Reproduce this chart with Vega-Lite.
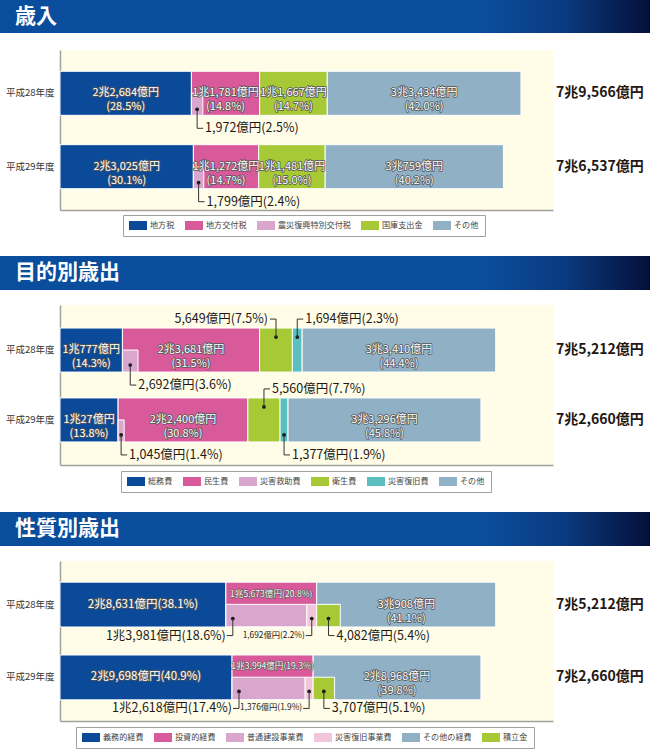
{
  "$schema": "https://vega.github.io/schema/vega-lite/v6.json",
  "padding": 0,
  "background": "#ffffff",
  "config": {
    "view": {"stroke": null},
    "font": "Noto Sans CJK JP",
    "text": {"font": "Noto Sans CJK JP"}
  },
  "datasets": {
    "rev": [
      {"year": "平成28年度", "cat": "地方税", "value": 22684, "pct": 28.5, "kind": "main", "parent": "地方税", "k": 1},
      {"year": "平成28年度", "cat": "震災復興特別交付税", "value": 1972, "pct": 2.5, "kind": "inset", "parent": "地方交付税", "k": 2},
      {"year": "平成28年度", "cat": "地方交付税", "value": 11781, "pct": 14.8, "kind": "main", "parent": "地方交付税", "k": 3},
      {"year": "平成28年度", "cat": "国庫支出金", "value": 11667, "pct": 14.7, "kind": "main", "parent": "国庫支出金", "k": 4},
      {"year": "平成28年度", "cat": "その他", "value": 33434, "pct": 42.0, "kind": "main", "parent": "その他", "k": 5},
      {"year": "平成28年度", "cat": "合計", "value": 79566, "kind": "total", "parent": "合計", "k": 6},
      {"year": "平成29年度", "cat": "地方税", "value": 23025, "pct": 30.1, "kind": "main", "parent": "地方税", "k": 1},
      {"year": "平成29年度", "cat": "震災復興特別交付税", "value": 1799, "pct": 2.4, "kind": "inset", "parent": "地方交付税", "k": 2},
      {"year": "平成29年度", "cat": "地方交付税", "value": 11272, "pct": 14.7, "kind": "main", "parent": "地方交付税", "k": 3},
      {"year": "平成29年度", "cat": "国庫支出金", "value": 11481, "pct": 15.0, "kind": "main", "parent": "国庫支出金", "k": 4},
      {"year": "平成29年度", "cat": "その他", "value": 30759, "pct": 40.2, "kind": "main", "parent": "その他", "k": 5},
      {"year": "平成29年度", "cat": "合計", "value": 76537, "kind": "total", "parent": "合計", "k": 6}
    ],
    "purp": [
      {"year": "平成28年度", "cat": "総務費", "value": 10777, "pct": 14.3, "kind": "main", "parent": "総務費", "k": 1},
      {"year": "平成28年度", "cat": "災害救助費", "value": 2692, "pct": 3.6, "kind": "inset", "parent": "民生費", "k": 2},
      {"year": "平成28年度", "cat": "民生費", "value": 23681, "pct": 31.5, "kind": "main", "parent": "民生費", "k": 3},
      {"year": "平成28年度", "cat": "衛生費", "value": 5649, "pct": 7.5, "kind": "main", "parent": "衛生費", "k": 4},
      {"year": "平成28年度", "cat": "災害復旧費", "value": 1694, "pct": 2.3, "kind": "main", "parent": "災害復旧費", "k": 5},
      {"year": "平成28年度", "cat": "その他", "value": 33410, "pct": 44.4, "kind": "main", "parent": "その他", "k": 6},
      {"year": "平成28年度", "cat": "合計", "value": 75212, "kind": "total", "parent": "合計", "k": 7},
      {"year": "平成29年度", "cat": "総務費", "value": 10027, "pct": 13.8, "kind": "main", "parent": "総務費", "k": 1},
      {"year": "平成29年度", "cat": "災害救助費", "value": 1045, "pct": 1.4, "kind": "inset", "parent": "民生費", "k": 2},
      {"year": "平成29年度", "cat": "民生費", "value": 22400, "pct": 30.8, "kind": "main", "parent": "民生費", "k": 3},
      {"year": "平成29年度", "cat": "衛生費", "value": 5560, "pct": 7.7, "kind": "main", "parent": "衛生費", "k": 4},
      {"year": "平成29年度", "cat": "災害復旧費", "value": 1377, "pct": 1.9, "kind": "main", "parent": "災害復旧費", "k": 5},
      {"year": "平成29年度", "cat": "その他", "value": 33296, "pct": 45.8, "kind": "main", "parent": "その他", "k": 6},
      {"year": "平成29年度", "cat": "合計", "value": 72660, "kind": "total", "parent": "合計", "k": 7}
    ],
    "nat": [
      {"year": "平成28年度", "cat": "義務的経費", "value": 28631, "pct": 38.1, "kind": "main", "parent": "義務的経費", "k": 1},
      {"year": "平成28年度", "cat": "普通建設事業費", "value": 13981, "pct": 18.6, "kind": "inset", "parent": "投資的経費", "k": 2},
      {"year": "平成28年度", "cat": "災害復旧事業費", "value": 1692, "pct": 2.2, "kind": "inset", "parent": "投資的経費", "k": 3},
      {"year": "平成28年度", "cat": "投資的経費", "value": 15673, "pct": 20.8, "kind": "main", "parent": "投資的経費", "k": 4},
      {"year": "平成28年度", "cat": "積立金", "value": 4082, "pct": 5.4, "kind": "inset", "parent": "その他の経費", "k": 5},
      {"year": "平成28年度", "cat": "その他の経費", "value": 30908, "pct": 41.1, "kind": "main", "parent": "その他の経費", "k": 6},
      {"year": "平成28年度", "cat": "合計", "value": 75212, "kind": "total", "parent": "合計", "k": 7},
      {"year": "平成29年度", "cat": "義務的経費", "value": 29698, "pct": 40.9, "kind": "main", "parent": "義務的経費", "k": 1},
      {"year": "平成29年度", "cat": "普通建設事業費", "value": 12618, "pct": 17.4, "kind": "inset", "parent": "投資的経費", "k": 2},
      {"year": "平成29年度", "cat": "災害復旧事業費", "value": 1376, "pct": 1.9, "kind": "inset", "parent": "投資的経費", "k": 3},
      {"year": "平成29年度", "cat": "投資的経費", "value": 13994, "pct": 19.3, "kind": "main", "parent": "投資的経費", "k": 4},
      {"year": "平成29年度", "cat": "積立金", "value": 3707, "pct": 5.1, "kind": "inset", "parent": "その他の経費", "k": 5},
      {"year": "平成29年度", "cat": "その他の経費", "value": 28968, "pct": 39.8, "kind": "main", "parent": "その他の経費", "k": 6},
      {"year": "平成29年度", "cat": "合計", "value": 72660, "kind": "total", "parent": "合計", "k": 7}
    ]
  },
  "spacing": 19,
  "resolve": {"scale": {"x": "independent", "y": "independent", "color": "independent"}, "legend": {"color": "independent"}},
  "vconcat": [
    {
      "spacing": 17,
      "resolve": {"scale": {"x": "independent", "y": "independent", "color": "independent"}},
      "vconcat": [
        {
          "width": 590, "height": 33,
          "data": {"values": [{"t": "歳入"}]},
          "layer": [
            {"mark": {"type": "rect", "color": {"gradient": "linear", "x1": 0, "x2": 1, "y1": 0, "y2": 0, "stops": [{"offset": 0, "color": "#0b4d9d"}, {"offset": 0.74, "color": "#0b4d9d"}, {"offset": 0.87, "color": "#0a3a7e"}, {"offset": 1, "color": "#050f3a"}]}},
             "encoding": {"x": {"datum": 0, "type": "quantitative", "scale": {"domain": [0, 1], "range": [-60, 590], "nice": false}, "axis": null}, "x2": {"datum": 1}}},
            {"mark": {"type": "text", "align": "left", "baseline": "middle", "dx": 15, "fontSize": 21, "fontWeight": "bold", "color": "#ffffff"},
             "encoding": {"x": {"datum": 0, "type": "quantitative"}, "text": {"field": "t"}}}
          ]
        },
        {
          "width": 493, "height": 160,
          "view": {"fill": "#fffde8", "stroke": null},
          "data": {"name": "rev"},
          "transform": [
            {"calculate": "datum.kind == 'main' ? datum.value : 0", "as": "m"},
            {"calculate": "datum.kind == 'inset' ? datum.value : 0", "as": "n"},
            {"stack": "m", "groupby": ["year"], "sort": [{"field": "k", "order": "ascending"}], "as": ["s0", "s1"]},
            {"stack": "n", "groupby": ["year", "parent"], "sort": [{"field": "k", "order": "ascending"}], "as": ["t0", "t1"]},
            {"calculate": "datum.kind == 'inset' ? datum.s0 + datum.t0 : datum.s0", "as": "x0"},
            {"calculate": "datum.x0 + datum.value", "as": "x1"},
            {"calculate": "(datum.x0 + datum.x1) / 2", "as": "xc"},
            {"calculate": "(datum.value >= 10000 ? floor(datum.value / 10000) + '兆' + format(datum.value % 10000, ',') : format(datum.value, ',')) + '億円'", "as": "lab"},
            {"calculate": "datum.lab + '(' + format(datum.pct, '.1f') + '%)'", "as": "lab1"},
            {"calculate": "datum.lab + '\\n(' + format(datum.pct, '.1f') + '%)'", "as": "lab2"}
          ],
          "encoding": {
            "y": {"field": "year", "type": "nominal", "title": null,
                  "scale": {"domain": ["平成28年度", "平成29年度"], "paddingInner": 0.4, "paddingOuter": 0.29},
                  "axis": {"ticks": false, "labelPadding": 6, "labelFontSize": 9.5, "labelColor": "#333333", "domainColor": "#a3a19b", "domainWidth": 1.5, "minExtent": 60, "maxExtent": 60}}
          },
          "layer": [
            {"transform": [{"filter": "datum.kind == 'main'"}],
             "mark": {"type": "bar", "stroke": "#ffffff", "strokeWidth": 1, "opacity": 1},
             "encoding": {
               "x": {"field": "x0", "type": "quantitative", "title": null, "scale": {"domain": [0, 85100], "nice": false, "zero": false}, "axis": {"labels": false, "ticks": false, "grid": false, "domainColor": "#a3a19b", "domainWidth": 1.5}},
               "x2": {"field": "x1"},
               "color": {"field": "cat", "type": "nominal",
                         "scale": {"domain": ["地方税", "地方交付税", "震災復興特別交付税", "国庫支出金", "その他"], "range": ["#0b4a98", "#d95a9b", "#d9a6cd", "#a6c935", "#90b1c5"]},
                         "legend": {"title": null, "orient": "none", "legendX": 63, "legendY": 165, "direction": "horizontal", "symbolType": "M-1,-1H3V1H-1Z", "symbolSize": 81, "symbolStrokeWidth": 0, "labelOffset": 12, "labelFontSize": 8.1, "labelColor": "#444444", "columnPadding": 10, "padding": 6, "strokeColor": "#a0a0a0", "fillColor": "#ffffff"}}
             }},
            {"transform": [{"filter": "datum.kind == 'inset'"}],
             "mark": {"type": "bar", "height": {"band": 0.5}, "yOffset": 11, "stroke": "#ffffff", "strokeWidth": 1, "opacity": 1},
             "encoding": {"x": {"field": "x0", "type": "quantitative", "title": null}, "x2": {"field": "x1"}, "color": {"field": "cat", "type": "nominal"}}},
            {"transform": [{"filter": "datum.kind == 'main'"}],
             "mark": {"type": "text", "lineBreak": "\n", "lineHeight": 14, "fontSize": 11, "baseline": "middle", "fill": "#555555", "stroke": "#555555", "strokeWidth": 1.6, "strokeJoin": "round"},
             "encoding": {"x": {"field": "xc", "type": "quantitative", "title": null}, "text": {"field": "lab2"}}},
            {"transform": [{"filter": "datum.kind == 'main'"}],
             "mark": {"type": "text", "lineBreak": "\n", "lineHeight": 14, "fontSize": 11, "baseline": "middle", "fill": "#ffffff"},
             "encoding": {"x": {"field": "xc", "type": "quantitative", "title": null}, "text": {"field": "lab2"}}},
            {"transform": [{"filter": "datum.kind == 'inset'"}],
             "mark": {"type": "point", "filled": true, "color": "#1a1a1a", "size": 14, "opacity": 1, "yOffset": 16},
             "encoding": {"x": {"field": "xc", "type": "quantitative", "title": null}}},
            {"transform": [{"filter": "datum.kind == 'inset'"}],
             "mark": {"type": "tick", "orient": "vertical", "size": 19, "thickness": 1, "color": "#333333", "opacity": 1, "yOffset": 25.5},
             "encoding": {"x": {"field": "xc", "type": "quantitative", "title": null}}},
            {"transform": [{"filter": "datum.kind == 'inset'"}],
             "mark": {"type": "tick", "orient": "horizontal", "size": 6, "thickness": 1, "color": "#333333", "opacity": 1, "xOffset": 3, "yOffset": 35},
             "encoding": {"x": {"field": "xc", "type": "quantitative", "title": null}}},
            {"transform": [{"filter": "datum.kind == 'inset'"}],
             "mark": {"type": "text", "align": "left", "baseline": "middle", "dx": 8, "yOffset": 35, "fontSize": 12.5, "color": "#231815"},
             "encoding": {"x": {"field": "xc", "type": "quantitative", "title": null}, "text": {"field": "lab1"}}},
            {"transform": [{"filter": "datum.kind == 'total'"}],
             "mark": {"type": "text", "align": "left", "baseline": "middle", "dx": 3, "fontSize": 14, "fontWeight": "bold", "color": "#231815"},
             "encoding": {"x": {"datum": 85100, "type": "quantitative"}, "text": {"field": "lab"}}}
          ]
        }
      ]
    },
    {
      "spacing": 15,
      "resolve": {"scale": {"x": "independent", "y": "independent", "color": "independent"}},
      "vconcat": [
        {
          "width": 590, "height": 34,
          "data": {"values": [{"t": "目的別歳出"}]},
          "layer": [
            {"mark": {"type": "rect", "color": {"gradient": "linear", "x1": 0, "x2": 1, "y1": 0, "y2": 0, "stops": [{"offset": 0, "color": "#0b4d9d"}, {"offset": 0.74, "color": "#0b4d9d"}, {"offset": 0.87, "color": "#0a3a7e"}, {"offset": 1, "color": "#050f3a"}]}},
             "encoding": {"x": {"datum": 0, "type": "quantitative", "scale": {"domain": [0, 1], "range": [-60, 590], "nice": false}, "axis": null}, "x2": {"datum": 1}}},
            {"mark": {"type": "text", "align": "left", "baseline": "middle", "dx": 15, "fontSize": 21, "fontWeight": "bold", "color": "#ffffff"},
             "encoding": {"x": {"datum": 0, "type": "quantitative"}, "text": {"field": "t"}}}
          ]
        },
        {
          "width": 493, "height": 160,
          "view": {"fill": "#fffde8", "stroke": null},
          "data": {"name": "purp"},
          "transform": [
            {"calculate": "datum.kind == 'main' ? datum.value : 0", "as": "m"},
            {"calculate": "datum.kind == 'inset' ? datum.value : 0", "as": "n"},
            {"stack": "m", "groupby": ["year"], "sort": [{"field": "k", "order": "ascending"}], "as": ["s0", "s1"]},
            {"stack": "n", "groupby": ["year", "parent"], "sort": [{"field": "k", "order": "ascending"}], "as": ["t0", "t1"]},
            {"calculate": "datum.kind == 'inset' ? datum.s0 + datum.t0 : datum.s0", "as": "x0"},
            {"calculate": "datum.x0 + datum.value", "as": "x1"},
            {"calculate": "(datum.x0 + datum.x1) / 2", "as": "xc"},
            {"calculate": "(datum.value >= 10000 ? floor(datum.value / 10000) + '兆' + format(datum.value % 10000, ',') : format(datum.value, ',')) + '億円'", "as": "lab"},
            {"calculate": "datum.lab + '(' + format(datum.pct, '.1f') + '%)'", "as": "lab1"},
            {"calculate": "datum.lab + '\\n(' + format(datum.pct, '.1f') + '%)'", "as": "lab2"},
            {"calculate": "datum.cat == '災害救助費' || (datum.cat == '災害復旧費' && datum.year == '平成29年度') ? 'BR' : (datum.cat == '衛生費' && datum.year == '平成28年度') ? 'AL' : (datum.cat == '衛生費' || datum.cat == '災害復旧費') ? 'AR' : ''", "as": "co"}
          ],
          "encoding": {
            "y": {"field": "year", "type": "nominal", "title": null,
                  "scale": {"domain": ["平成28年度", "平成29年度"], "paddingInner": 0.37, "paddingOuter": 0.33},
                  "axis": {"ticks": false, "labelPadding": 6, "labelFontSize": 9.5, "labelColor": "#333333", "domainColor": "#a3a19b", "domainWidth": 1.5, "minExtent": 60, "maxExtent": 60}}
          },
          "layer": [
            {"transform": [{"filter": "datum.kind == 'main'"}],
             "mark": {"type": "bar", "stroke": "#ffffff", "strokeWidth": 1, "opacity": 1},
             "encoding": {
               "x": {"field": "x0", "type": "quantitative", "title": null, "scale": {"domain": [0, 85100], "nice": false, "zero": false}, "axis": {"labels": false, "ticks": false, "grid": false, "domainColor": "#a3a19b", "domainWidth": 1.5}},
               "x2": {"field": "x1"},
               "color": {"field": "cat", "type": "nominal",
                         "scale": {"domain": ["総務費", "民生費", "災害救助費", "衛生費", "災害復旧費", "その他"], "range": ["#0b4a98", "#d95a9b", "#d9a6cd", "#a6c935", "#5bbfbf", "#90b1c5"]},
                         "legend": {"title": null, "orient": "none", "legendX": 61, "legendY": 166, "direction": "horizontal", "symbolType": "M-1,-1H3V1H-1Z", "symbolSize": 81, "symbolStrokeWidth": 0, "labelOffset": 12, "labelFontSize": 8.1, "labelColor": "#444444", "columnPadding": 10, "padding": 6, "strokeColor": "#a0a0a0", "fillColor": "#ffffff"}}
             }},
            {"transform": [{"filter": "datum.kind == 'inset'"}],
             "mark": {"type": "bar", "height": {"band": 0.5}, "yOffset": 11, "stroke": "#ffffff", "strokeWidth": 1, "opacity": 1},
             "encoding": {"x": {"field": "x0", "type": "quantitative", "title": null}, "x2": {"field": "x1"}, "color": {"field": "cat", "type": "nominal"}}},
            {"transform": [{"filter": "datum.kind == 'main' && datum.value > 8000"}],
             "mark": {"type": "text", "lineBreak": "\n", "lineHeight": 14, "fontSize": 11, "baseline": "middle", "fill": "#555555", "stroke": "#555555", "strokeWidth": 1.6, "strokeJoin": "round"},
             "encoding": {"x": {"field": "xc", "type": "quantitative", "title": null}, "text": {"field": "lab2"}}},
            {"transform": [{"filter": "datum.kind == 'main' && datum.value > 8000"}],
             "mark": {"type": "text", "lineBreak": "\n", "lineHeight": 14, "fontSize": 11, "baseline": "middle", "fill": "#ffffff"},
             "encoding": {"x": {"field": "xc", "type": "quantitative", "title": null}, "text": {"field": "lab2"}}},
            {"transform": [{"filter": "datum.co == 'BR'"}],
             "mark": {"type": "point", "filled": true, "color": "#1a1a1a", "size": 14, "opacity": 1, "yOffset": 15},
             "encoding": {"x": {"field": "xc", "type": "quantitative", "title": null}}},
            {"transform": [{"filter": "datum.co == 'AR' || datum.co == 'AL'"}],
             "mark": {"type": "point", "filled": true, "color": "#1a1a1a", "size": 14, "opacity": 1, "yOffset": -13},
             "encoding": {"x": {"field": "xc", "type": "quantitative", "title": null}}},
            {"transform": [{"filter": "datum.co == 'BR'"}],
             "mark": {"type": "tick", "orient": "vertical", "size": 20, "thickness": 1, "color": "#333333", "opacity": 1, "yOffset": 25},
             "encoding": {"x": {"field": "xc", "type": "quantitative", "title": null}}},
            {"transform": [{"filter": "datum.co == 'AR' || datum.co == 'AL'"}],
             "mark": {"type": "tick", "orient": "vertical", "size": 18, "thickness": 1, "color": "#333333", "opacity": 1, "yOffset": -22},
             "encoding": {"x": {"field": "xc", "type": "quantitative", "title": null}}},
            {"transform": [{"filter": "datum.co == 'BR'"}],
             "mark": {"type": "tick", "orient": "horizontal", "size": 6, "thickness": 1, "color": "#333333", "opacity": 1, "xOffset": 3, "yOffset": 35},
             "encoding": {"x": {"field": "xc", "type": "quantitative", "title": null}}},
            {"transform": [{"filter": "datum.co == 'AR'"}],
             "mark": {"type": "tick", "orient": "horizontal", "size": 6, "thickness": 1, "color": "#333333", "opacity": 1, "xOffset": 3, "yOffset": -31},
             "encoding": {"x": {"field": "xc", "type": "quantitative", "title": null}}},
            {"transform": [{"filter": "datum.co == 'AL'"}],
             "mark": {"type": "tick", "orient": "horizontal", "size": 6, "thickness": 1, "color": "#333333", "opacity": 1, "xOffset": -3, "yOffset": -31},
             "encoding": {"x": {"field": "xc", "type": "quantitative", "title": null}}},
            {"transform": [{"filter": "datum.co == 'BR'"}],
             "mark": {"type": "text", "align": "left", "baseline": "middle", "dx": 8, "yOffset": 35, "fontSize": 12.5, "color": "#231815"},
             "encoding": {"x": {"field": "xc", "type": "quantitative", "title": null}, "text": {"field": "lab1"}}},
            {"transform": [{"filter": "datum.co == 'AR'"}],
             "mark": {"type": "text", "align": "left", "baseline": "middle", "dx": 8, "yOffset": -31, "fontSize": 12.5, "color": "#231815"},
             "encoding": {"x": {"field": "xc", "type": "quantitative", "title": null}, "text": {"field": "lab1"}}},
            {"transform": [{"filter": "datum.co == 'AL'"}],
             "mark": {"type": "text", "align": "right", "baseline": "middle", "dx": -8, "yOffset": -31, "fontSize": 12.5, "color": "#231815"},
             "encoding": {"x": {"field": "xc", "type": "quantitative", "title": null}, "text": {"field": "lab1"}}},
            {"transform": [{"filter": "datum.kind == 'total'"}],
             "mark": {"type": "text", "align": "left", "baseline": "middle", "dx": 3, "fontSize": 14, "fontWeight": "bold", "color": "#231815"},
             "encoding": {"x": {"datum": 85100, "type": "quantitative"}, "text": {"field": "lab"}}}
          ]
        }
      ]
    },
    {
      "spacing": 15,
      "resolve": {"scale": {"x": "independent", "y": "independent", "color": "independent"}},
      "vconcat": [
        {
          "width": 590, "height": 34,
          "data": {"values": [{"t": "性質別歳出"}]},
          "layer": [
            {"mark": {"type": "rect", "color": {"gradient": "linear", "x1": 0, "x2": 1, "y1": 0, "y2": 0, "stops": [{"offset": 0, "color": "#0b4d9d"}, {"offset": 0.74, "color": "#0b4d9d"}, {"offset": 0.87, "color": "#0a3a7e"}, {"offset": 1, "color": "#050f3a"}]}},
             "encoding": {"x": {"datum": 0, "type": "quantitative", "scale": {"domain": [0, 1], "range": [-60, 590], "nice": false}, "axis": null}, "x2": {"datum": 1}}},
            {"mark": {"type": "text", "align": "left", "baseline": "middle", "dx": 15, "fontSize": 21, "fontWeight": "bold", "color": "#ffffff"},
             "encoding": {"x": {"datum": 0, "type": "quantitative"}, "text": {"field": "t"}}}
          ]
        },
        {
          "width": 493, "height": 160,
          "view": {"fill": "#fffde8", "stroke": null},
          "data": {"name": "nat"},
          "transform": [
            {"calculate": "datum.kind == 'main' ? datum.value : 0", "as": "m"},
            {"calculate": "datum.kind == 'inset' ? datum.value : 0", "as": "n"},
            {"stack": "m", "groupby": ["year"], "sort": [{"field": "k", "order": "ascending"}], "as": ["s0", "s1"]},
            {"stack": "n", "groupby": ["year", "parent"], "sort": [{"field": "k", "order": "ascending"}], "as": ["t0", "t1"]},
            {"calculate": "datum.kind == 'inset' ? datum.s0 + datum.t0 : datum.s0", "as": "x0"},
            {"calculate": "datum.x0 + datum.value", "as": "x1"},
            {"calculate": "datum.kind == 'inset' && datum.value > 10000 ? datum.x0 + 1200 : (datum.x0 + datum.x1) / 2", "as": "xc"},
            {"calculate": "(datum.value >= 10000 ? floor(datum.value / 10000) + '兆' + format(datum.value % 10000, ',') : format(datum.value, ',')) + '億円'", "as": "lab"},
            {"calculate": "datum.lab + '(' + format(datum.pct, '.1f') + '%)'", "as": "lab1"},
            {"calculate": "datum.lab + '\\n(' + format(datum.pct, '.1f') + '%)'", "as": "lab2"}
          ],
          "encoding": {
            "y": {"field": "year", "type": "nominal", "title": null,
                  "scale": {"domain": ["平成28年度", "平成29年度"], "paddingInner": 0.384, "paddingOuter": 0.29},
                  "axis": {"ticks": false, "labelPadding": 6, "labelFontSize": 9.5, "labelColor": "#333333", "domainColor": "#a3a19b", "domainWidth": 1.5, "minExtent": 60, "maxExtent": 60}}
          },
          "layer": [
            {"transform": [{"filter": "datum.kind == 'main'"}],
             "mark": {"type": "bar", "stroke": "#ffffff", "strokeWidth": 1, "opacity": 1},
             "encoding": {
               "x": {"field": "x0", "type": "quantitative", "title": null, "scale": {"domain": [0, 85100], "nice": false, "zero": false}, "axis": {"labels": false, "ticks": false, "grid": false, "domainColor": "#a3a19b", "domainWidth": 1.5}},
               "x2": {"field": "x1"},
               "color": {"field": "cat", "type": "nominal",
                         "scale": {"domain": ["義務的経費", "投資的経費", "普通建設事業費", "災害復旧事業費", "その他の経費", "積立金"], "range": ["#0b4a98", "#d95a9b", "#d9a6cd", "#f2c6da", "#90b1c5", "#a6c935"]},
                         "legend": {"title": null, "orient": "none", "legendX": 16, "legendY": 166, "direction": "horizontal", "symbolType": "M-1,-1H3V1H-1Z", "symbolSize": 81, "symbolStrokeWidth": 0, "labelOffset": 12, "labelFontSize": 8.1, "labelColor": "#444444", "columnPadding": 10, "padding": 6, "strokeColor": "#a0a0a0", "fillColor": "#ffffff"}}
             }},
            {"transform": [{"filter": "datum.kind == 'inset'"}],
             "mark": {"type": "bar", "height": {"band": 0.5}, "yOffset": 11, "stroke": "#ffffff", "strokeWidth": 1, "opacity": 1},
             "encoding": {"x": {"field": "x0", "type": "quantitative", "title": null}, "x2": {"field": "x1"}, "color": {"field": "cat", "type": "nominal"}}},
            {"transform": [{"filter": "datum.cat == '義務的経費'"}],
             "mark": {"type": "text", "fontSize": 11.5, "baseline": "middle", "fill": "#555555", "stroke": "#555555", "strokeWidth": 1.6, "strokeJoin": "round"},
             "encoding": {"x": {"field": "xc", "type": "quantitative", "title": null}, "text": {"field": "lab1"}}},
            {"transform": [{"filter": "datum.cat == '義務的経費'"}],
             "mark": {"type": "text", "fontSize": 11.5, "baseline": "middle", "fill": "#ffffff"},
             "encoding": {"x": {"field": "xc", "type": "quantitative", "title": null}, "text": {"field": "lab1"}}},
            {"transform": [{"filter": "datum.cat == 'その他の経費'"}],
             "mark": {"type": "text", "lineBreak": "\n", "lineHeight": 14, "fontSize": 11, "baseline": "middle", "fill": "#555555", "stroke": "#555555", "strokeWidth": 1.6, "strokeJoin": "round"},
             "encoding": {"x": {"field": "xc", "type": "quantitative", "title": null}, "text": {"field": "lab2"}}},
            {"transform": [{"filter": "datum.cat == 'その他の経費'"}],
             "mark": {"type": "text", "lineBreak": "\n", "lineHeight": 14, "fontSize": 11, "baseline": "middle", "fill": "#ffffff"},
             "encoding": {"x": {"field": "xc", "type": "quantitative", "title": null}, "text": {"field": "lab2"}}},
            {"transform": [{"filter": "datum.cat == '投資的経費'"}],
             "mark": {"type": "text", "fontSize": 8.6, "baseline": "middle", "yOffset": -11, "fill": "#555555", "stroke": "#555555", "strokeWidth": 1.2, "strokeJoin": "round"},
             "encoding": {"x": {"field": "xc", "type": "quantitative", "title": null}, "text": {"field": "lab1"}}},
            {"transform": [{"filter": "datum.cat == '投資的経費'"}],
             "mark": {"type": "text", "fontSize": 8.6, "baseline": "middle", "yOffset": -11, "fill": "#ffffff"},
             "encoding": {"x": {"field": "xc", "type": "quantitative", "title": null}, "text": {"field": "lab1"}}},
            {"transform": [{"filter": "datum.kind == 'inset'"}],
             "mark": {"type": "point", "filled": true, "color": "#1a1a1a", "size": 14, "opacity": 1, "yOffset": 14},
             "encoding": {"x": {"field": "xc", "type": "quantitative", "title": null}}},
            {"transform": [{"filter": "datum.kind == 'inset'"}],
             "mark": {"type": "tick", "orient": "vertical", "size": 17, "thickness": 1, "color": "#333333", "opacity": 1, "yOffset": 22.5},
             "encoding": {"x": {"field": "xc", "type": "quantitative", "title": null}}},
            {"transform": [{"filter": "datum.kind == 'inset' && datum.cat != '積立金'"}],
             "mark": {"type": "tick", "orient": "horizontal", "size": 6, "thickness": 1, "color": "#333333", "opacity": 1, "xOffset": -3, "yOffset": 31},
             "encoding": {"x": {"field": "xc", "type": "quantitative", "title": null}}},
            {"transform": [{"filter": "datum.cat == '積立金'"}],
             "mark": {"type": "tick", "orient": "horizontal", "size": 6, "thickness": 1, "color": "#333333", "opacity": 1, "xOffset": 3, "yOffset": 31},
             "encoding": {"x": {"field": "xc", "type": "quantitative", "title": null}}},
            {"transform": [{"filter": "datum.kind == 'inset' && datum.cat != '積立金'"}],
             "mark": {"type": "text", "align": "right", "baseline": "middle", "dx": -7, "yOffset": 31, "color": "#231815"},
             "encoding": {"x": {"field": "xc", "type": "quantitative", "title": null}, "text": {"field": "lab1"},
                          "size": {"condition": {"test": "datum.cat == '災害復旧事業費'", "value": 8.3}, "value": 12.5}}},
            {"transform": [{"filter": "datum.cat == '積立金'"}],
             "mark": {"type": "text", "align": "left", "baseline": "middle", "dx": 8, "yOffset": 31, "fontSize": 12.5, "color": "#231815"},
             "encoding": {"x": {"field": "xc", "type": "quantitative", "title": null}, "text": {"field": "lab1"}}},
            {"transform": [{"filter": "datum.kind == 'total'"}],
             "mark": {"type": "text", "align": "left", "baseline": "middle", "dx": 3, "fontSize": 14, "fontWeight": "bold", "color": "#231815"},
             "encoding": {"x": {"datum": 85100, "type": "quantitative"}, "text": {"field": "lab"}}}
          ]
        }
      ]
    }
  ]
}
